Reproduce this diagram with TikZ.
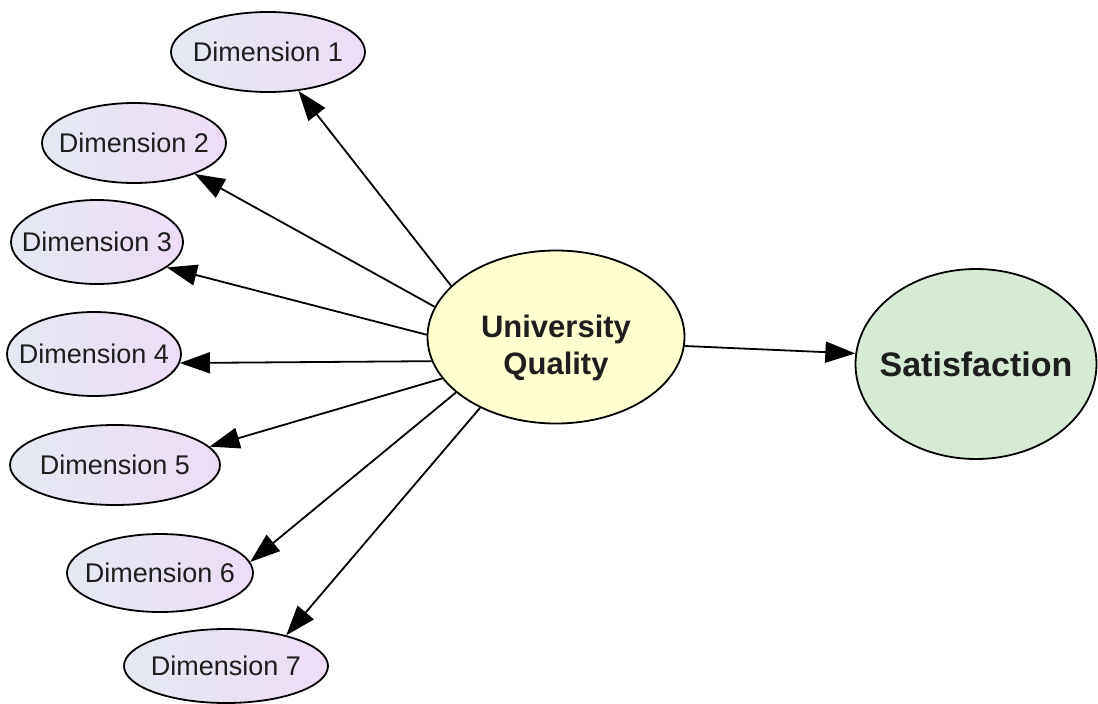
\documentclass[tikz,border=0pt]{standalone}
\usepackage{fontspec}
\setmainfont{Liberation Sans}
\usetikzlibrary{arrows.meta,shapes.geometric}
\definecolor{dimleft}{HTML}{E4E9F3}
\definecolor{dimright}{HTML}{EEDCF6}
\definecolor{uqfill}{HTML}{FFFFD2}
\definecolor{satfill}{HTML}{D6EBD4}
\definecolor{txt}{HTML}{1E1E1E}
\newcommand{\zw}[1]{\makebox[0pt]{#1}}
\tikzset{
  dimnode/.style={ellipse, draw=black, line width=1.8pt, inner sep=0pt,
    left color=dimleft, right color=dimright, text=txt,
    font=\fontsize{27}{31}\selectfont},
  bignode/.style={ellipse, draw=black, line width=1.8pt, inner sep=0pt,
    text=txt},
  conn/.style={line width=1.8pt, -{Triangle[length=30pt,width=21pt]}}
}
\begin{document}
\begin{tikzpicture}[x=1pt,y=-1pt]
\useasboundingbox (0,0) rectangle (1098,704);
\node[dimnode, minimum width=194pt, minimum height=80pt] (d1) at (268,52) {\zw{Dimension 1}};
\node[dimnode, minimum width=184pt, minimum height=80pt] (d2) at (134,143) {\zw{Dimension 2}};
\node[dimnode, minimum width=172pt, minimum height=84pt] (d3) at (97,242) {\zw{Dimension 3}};
\node[dimnode, minimum width=174pt, minimum height=84pt] (d4) at (94,354) {\zw{Dimension 4}};
\node[dimnode, minimum width=210pt, minimum height=80pt] (d5) at (115,465) {\zw{Dimension 5}};
\node[dimnode, minimum width=186pt, minimum height=78pt] (d6) at (160,573) {\zw{Dimension 6}};
\node[dimnode, minimum width=204pt, minimum height=74pt] (d7) at (226,666) {\zw{Dimension 7}};
\node[bignode, fill=uqfill, minimum width=257pt, minimum height=173pt,
  font=\bfseries\fontsize{31}{37}\selectfont] (uq) at (556,337)
  {\zw{\raisebox{-18pt}[0pt][0pt]{\begin{tabular}{@{}c@{}}University\\Quality\end{tabular}}}};
\node[bignode, fill=satfill, minimum width=241pt, minimum height=190pt,
  font=\bfseries\fontsize{34}{40}\selectfont] (sat) at (976,364) {\zw{Satisfaction}};
\draw[conn] (uq.154) -- (d1.-52);
\draw[conn] (uq.166) -- (d2.-27);
\draw[conn] (uq.179.5) -- (d3.-20);
\draw[conn] (uq.191) -- (d4.-6);
\draw[conn] (uq.200) -- (d5.11);
\draw[conn] (uq.209) -- (d6.7.5);
\draw[conn] (uq.223) -- (d7.27);
\draw[conn] (uq.-4.4) -- (sat.175);
\end{tikzpicture}
\end{document}
